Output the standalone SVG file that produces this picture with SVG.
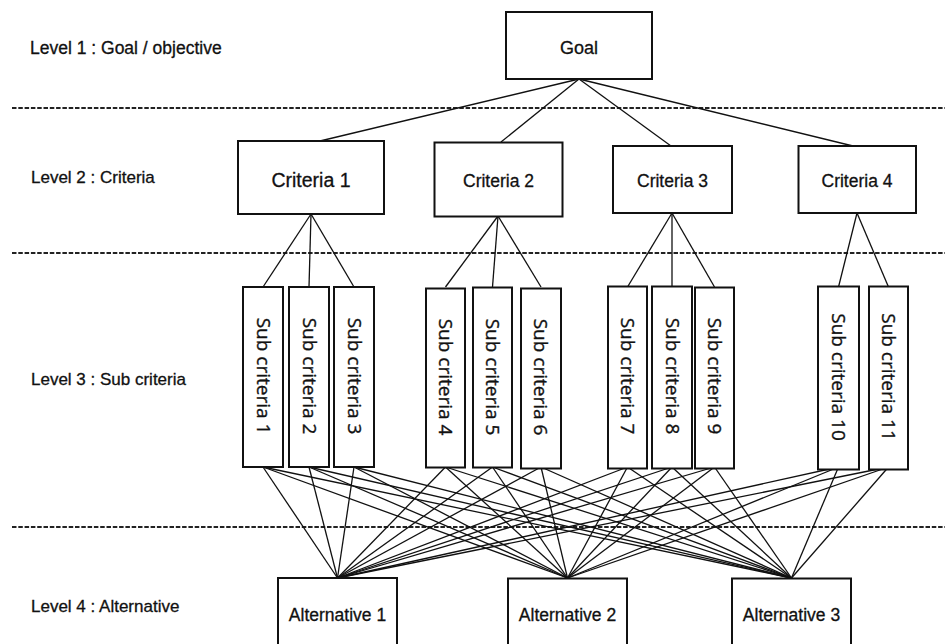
<svg xmlns="http://www.w3.org/2000/svg" width="945" height="644" viewBox="0 0 945 644">
  <style>
    .box { fill: #ffffff; stroke: #111111; stroke-width: 2; }
    .lbl { font-family: "Liberation Sans", Arial, sans-serif; font-size: 17px; fill: #111111; stroke: #111111; stroke-width: 0.3; }
    .txt { font-family: "Liberation Sans", Arial, sans-serif; font-size: 17.5px; fill: #111111; stroke: #111111; stroke-width: 0.3; text-anchor: middle; }
    .vtxt { font-family: "Open Sans", "Liberation Sans", sans-serif; font-size: 19px; fill: #111111; stroke: #111111; stroke-width: 0.35; text-anchor: middle; }
    .sep { stroke: #222222; stroke-width: 2; stroke-dasharray: 4.5 1.8; fill: none; }
    .conn line { stroke: #111111; stroke-width: 1.3; }
  </style>

  <rect width="945" height="644" fill="#ffffff"/>

  <!-- level separators -->
  <g id="separators">
    <line class="sep" x1="12" y1="108" x2="945" y2="108"/>
    <line class="sep" x1="12" y1="253" x2="945" y2="253"/>
    <line class="sep" x1="12" y1="527" x2="945" y2="527"/>
  </g>

  <!-- level captions -->
  <g id="level-labels">
    <text class="lbl" x="30" y="54" style="font-size:17.5px">Level 1 : Goal / objective</text>
    <text class="lbl" x="31" y="183">Level 2 : Criteria</text>
    <text class="lbl" x="31" y="385">Level 3 : Sub criteria</text>
    <text class="lbl" x="31" y="612">Level 4 : Alternative</text>
  </g>

  <g id="connectors" class="conn">
    <!-- goal to criteria -->
    <line x1="579" y1="79" x2="320" y2="141"/>
    <line x1="579" y1="79" x2="501" y2="142"/>
    <line x1="579" y1="79" x2="671" y2="146"/>
    <line x1="579" y1="79" x2="853" y2="146"/>
    <!-- criteria to sub criteria -->
    <line x1="311" y1="214" x2="263" y2="287"/>
    <line x1="311" y1="214" x2="309" y2="287"/>
    <line x1="311" y1="214" x2="354" y2="287"/>
    <line x1="498" y1="216" x2="445.5" y2="287"/>
    <line x1="498" y1="216" x2="492.5" y2="287"/>
    <line x1="498" y1="216" x2="541" y2="287"/>
    <line x1="672" y1="213" x2="627.5" y2="287"/>
    <line x1="672" y1="213" x2="672" y2="287"/>
    <line x1="672" y1="213" x2="714.5" y2="287"/>
    <line x1="857" y1="213" x2="838.5" y2="287"/>
    <line x1="857" y1="213" x2="888.5" y2="287"/>
    <!-- sub criteria to alternative 1 -->
    <line x1="263" y1="467" x2="337.5" y2="578"/>
    <line x1="309" y1="467" x2="337.5" y2="578"/>
    <line x1="354" y1="467" x2="337.5" y2="578"/>
    <line x1="445.5" y1="467" x2="337.5" y2="578"/>
    <line x1="492.5" y1="467" x2="337.5" y2="578"/>
    <line x1="541" y1="467" x2="337.5" y2="578"/>
    <line x1="627.5" y1="467" x2="337.5" y2="578"/>
    <line x1="672" y1="467" x2="337.5" y2="578"/>
    <line x1="714.5" y1="467" x2="337.5" y2="578"/>
    <line x1="838.5" y1="467" x2="337.5" y2="578"/>
    <line x1="888.5" y1="467" x2="337.5" y2="578"/>
    <!-- sub criteria to alternative 2 -->
    <line x1="263" y1="467" x2="567.5" y2="578"/>
    <line x1="309" y1="467" x2="567.5" y2="578"/>
    <line x1="354" y1="467" x2="567.5" y2="578"/>
    <line x1="445.5" y1="467" x2="567.5" y2="578"/>
    <line x1="492.5" y1="467" x2="567.5" y2="578"/>
    <line x1="541" y1="467" x2="567.5" y2="578"/>
    <line x1="627.5" y1="467" x2="567.5" y2="578"/>
    <line x1="672" y1="467" x2="567.5" y2="578"/>
    <line x1="714.5" y1="467" x2="567.5" y2="578"/>
    <line x1="838.5" y1="467" x2="567.5" y2="578"/>
    <line x1="888.5" y1="467" x2="567.5" y2="578"/>
    <!-- sub criteria to alternative 3 -->
    <line x1="263" y1="467" x2="791.5" y2="578"/>
    <line x1="309" y1="467" x2="791.5" y2="578"/>
    <line x1="354" y1="467" x2="791.5" y2="578"/>
    <line x1="445.5" y1="467" x2="791.5" y2="578"/>
    <line x1="492.5" y1="467" x2="791.5" y2="578"/>
    <line x1="541" y1="467" x2="791.5" y2="578"/>
    <line x1="627.5" y1="467" x2="791.5" y2="578"/>
    <line x1="672" y1="467" x2="791.5" y2="578"/>
    <line x1="714.5" y1="467" x2="791.5" y2="578"/>
    <line x1="838.5" y1="467" x2="791.5" y2="578"/>
    <line x1="888.5" y1="467" x2="791.5" y2="578"/>
  </g>

  <!-- level 1 -->
  <g id="goal">
    <rect class="box" x="506" y="12" width="146" height="67"/>
    <text class="txt" x="579" y="54" style="font-size:18px">Goal</text>
  </g>

  <!-- level 2 -->
  <g id="criteria-1">
    <rect class="box" x="238" y="141" width="146" height="73"/>
    <text class="txt" x="311" y="187" style="font-size:19.5px">Criteria 1</text>
  </g>
  <g id="criteria-2">
    <rect class="box" x="434.5" y="142.5" width="128" height="74"/>
    <text class="txt" x="498.5" y="187">Criteria 2</text>
  </g>
  <g id="criteria-3">
    <rect class="box" x="613" y="146" width="119" height="67"/>
    <text class="txt" x="672.5" y="187">Criteria 3</text>
  </g>
  <g id="criteria-4">
    <rect class="box" x="798.5" y="146" width="117.5" height="67"/>
    <text class="txt" x="857" y="187">Criteria 4</text>
  </g>

  <!-- level 3 -->
  <g id="sub-criteria-1">
    <rect class="box" x="243" y="287" width="40" height="180"/>
    <text class="vtxt" transform="translate(256.5 376) rotate(90)">Sub criteria 1</text>
  </g>
  <g id="sub-criteria-2">
    <rect class="box" x="289" y="287" width="40" height="180"/>
    <text class="vtxt" transform="translate(302.5 376) rotate(90)">Sub criteria 2</text>
  </g>
  <g id="sub-criteria-3">
    <rect class="box" x="334" y="287" width="40" height="180"/>
    <text class="vtxt" transform="translate(347.5 376) rotate(90)">Sub criteria 3</text>
  </g>
  <g id="sub-criteria-4">
    <rect class="box" x="426" y="288.5" width="39" height="179"/>
    <text class="vtxt" transform="translate(438.5 377) rotate(90)">Sub criteria 4</text>
  </g>
  <g id="sub-criteria-5">
    <rect class="box" x="473" y="287.5" width="39" height="180"/>
    <text class="vtxt" transform="translate(485.5 377) rotate(90)">Sub criteria 5</text>
  </g>
  <g id="sub-criteria-6">
    <rect class="box" x="521" y="288.5" width="40" height="180"/>
    <text class="vtxt" transform="translate(534 377) rotate(90)">Sub criteria 6</text>
  </g>
  <g id="sub-criteria-7">
    <rect class="box" x="608" y="286.5" width="39" height="182"/>
    <text class="vtxt" transform="translate(621 376) rotate(90)">Sub criteria 7</text>
  </g>
  <g id="sub-criteria-8">
    <rect class="box" x="652" y="286.5" width="40" height="182"/>
    <text class="vtxt" transform="translate(665.5 376) rotate(90)">Sub criteria 8</text>
  </g>
  <g id="sub-criteria-9">
    <rect class="box" x="695" y="287.5" width="39" height="181"/>
    <text class="vtxt" transform="translate(708 376) rotate(90)">Sub criteria 9</text>
  </g>
  <g id="sub-criteria-10">
    <rect class="box" x="818" y="286.5" width="41" height="183"/>
    <text class="vtxt" transform="translate(832 377) rotate(90)">Sub criteria 10</text>
  </g>
  <g id="sub-criteria-11">
    <rect class="box" x="869" y="286.5" width="39" height="183"/>
    <text class="vtxt" transform="translate(882 377) rotate(90)">Sub criteria 11</text>
  </g>

  <!-- level 4 -->
  <g id="alternative-1">
    <rect class="box" x="278" y="578" width="119" height="70"/>
    <text class="txt" x="337.5" y="621">Alternative 1</text>
  </g>
  <g id="alternative-2">
    <rect class="box" x="508" y="578.5" width="119" height="70"/>
    <text class="txt" x="567.5" y="621">Alternative 2</text>
  </g>
  <g id="alternative-3">
    <rect class="box" x="732" y="578.5" width="119" height="70"/>
    <text class="txt" x="791.5" y="621">Alternative 3</text>
  </g>
</svg>
